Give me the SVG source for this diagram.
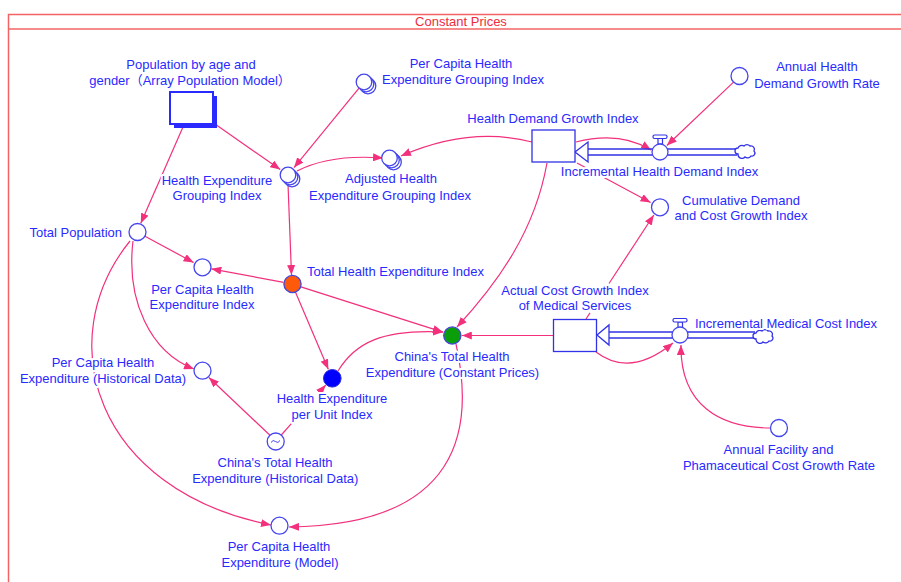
<svg xmlns="http://www.w3.org/2000/svg" width="901" height="582" viewBox="0 0 901 582">
<style>
text{font-family:"Liberation Sans",Arial,"Noto Sans CJK SC",sans-serif;font-size:13px;fill:#2a2aff;text-anchor:middle}
.lbl{paint-order:stroke;stroke:#fff;stroke-width:4px;stroke-linejoin:round}
.aux{fill:#fff;stroke:#4646f0;stroke-width:1.3}
.lk{fill:none;stroke:#f2307c;stroke-width:1.2;marker-end:url(#ah)}
.ln{fill:none;stroke:#f2307c;stroke-width:1.2}
.stock{fill:#fff;stroke:#3232e6;stroke-width:1.3}
.pipe{stroke:#3232e6;stroke-width:1.3;fill:none}
</style>
<defs>
<marker id="ah" markerUnits="userSpaceOnUse" markerWidth="10" markerHeight="8" refX="10" refY="4" orient="auto">
<path d="M0,0 L10,4 L0,8 z" fill="#f2307c"/>
</marker>
<path id="cloud" d="M-8,3 a3,3 0 0 1 0,-6 a4,4 0 0 1 6,-2 a4,4 0 0 1 6,0 a3.5,3.5 0 0 1 4,5 a3,3 0 0 1 -3,5 a4,4 0 0 1 -6,1 a4,4 0 0 1 -7,-3 z" fill="#fff" stroke="#3232e6" stroke-width="1.3"/>
</defs>
<rect width="901" height="582" fill="#fff"/>
<g id="frame">
<rect x="8.5" y="14.5" width="900" height="580" fill="none" stroke="#f26464" stroke-width="1.5"/>
<line x1="8.5" y1="29" x2="901" y2="29" stroke="#f26464" stroke-width="1.5"/>
<text x="461" y="25.5" style="fill:#f02c3c">Constant Prices</text>
</g>
<g id="connectors">
<path class="lk" d="M183,127 L140.8,223.3"/>
<path class="lk" d="M215,124 L280.2,169.6"/>
<path class="lk" d="M359,88.2 L294,167.6"/>
<path class="lk" d="M297,171 Q330,154 383,158"/>
<path class="lk" d="M532,142 Q470,126 401,156"/>
<path class="lk" d="M288,184 L291.5,275"/>
<path class="lk" d="M144.5,236 L193.6,262.5"/>
<path class="lk" d="M283.6,282.4 L211.3,268.8"/>
<path class="lk" d="M300.1,286.6 L442.9,332.1"/>
<path class="lk" d="M295.3,291.8 L328.3,369.3"/>
<path class="lk" d="M338,371 C355,343 382,329 443,332"/>
<path class="ln" d="M281.3,435 L294,420.7"/>
<path class="lk" d="M320.5,391 L325.7,385.1"/>
<path class="lk" d="M270.2,435.5 L208.9,377.5"/>
<path class="lk" d="M133,241 C126,300 150,352 194,369"/>
<path class="lk" d="M130,241 C50,340 95,490 271,525"/>
<path class="lk" d="M456,344 C475,430 460,525 289,527"/>
<path class="lk" d="M547,163 C535,230 500,280 457,327"/>
<path class="lk" d="M553,335.5 L461.8,335.5"/>
<path class="lk" d="M596,352 Q630,378 673,343"/>
<path class="lk" d="M771,428 C720,428 680,405 681,345"/>
<path class="ln" d="M586,319 L590,312.8"/>
<path class="lk" d="M609,283.5 L653.8,215"/>
<path class="lk" d="M577,163 L650.6,202.5"/>
<path class="lk" d="M576,142 Q620,131 651,150"/>
<path class="lk" d="M733.8,81.9 L666.9,145.5"/>
</g>
<g id="pop-array">
<rect x="174" y="96" width="43" height="32" fill="#2a2aff"/>
<rect x="170" y="92" width="43" height="32" fill="#fff" stroke="#2a2aff" stroke-width="2"/>
<text class="lbl" x="191" y="68.5">Population by age and</text>
<text class="lbl" x="190" y="84.5">gender（Array Population Model）</text>
</g>
<g id="pc-grouping-index">
<circle class="aux" cx="368" cy="86" r="7.8"/>
<circle class="aux" cx="366" cy="84" r="7.8"/>
<circle class="aux" cx="364" cy="82" r="7.8"/>
<text class="lbl" x="461" y="67.5">Per Capita Health</text>
<text class="lbl" x="463" y="83.5">Expenditure Grouping Index</text>
</g>
<g id="he-grouping-index">
<circle class="aux" cx="292" cy="179" r="7.8"/>
<circle class="aux" cx="290" cy="177" r="7.8"/>
<circle class="aux" cx="288" cy="175" r="7.8"/>
<text class="lbl" x="217" y="184.5">Health Expenditure</text>
<text class="lbl" x="217" y="200">Grouping Index</text>
</g>
<g id="adjusted-grouping-index">
<circle class="aux" cx="393.5" cy="162" r="7.8"/>
<circle class="aux" cx="391.5" cy="160" r="7.8"/>
<circle class="aux" cx="389.5" cy="158" r="7.8"/>
<text class="lbl" x="391" y="182.5">Adjusted Health</text>
<text class="lbl" x="390" y="199.5">Expenditure Grouping Index</text>
</g>
<g id="health-demand-flow">
<line class="pipe" x1="588" y1="149" x2="737" y2="149"/>
<line class="pipe" x1="588" y1="155" x2="737" y2="155"/>
<polygon points="575,152 588,142 588,162" fill="#fff" stroke="#3232e6" stroke-width="1.3"/>
<use href="#cloud" x="746" y="151"/>
<rect x="658" y="138" width="4.5" height="6" fill="#fff" stroke="#3232e6" stroke-width="1.2"/>
<rect x="653" y="135" width="14" height="3.5" rx="1.5" fill="#fff" stroke="#3232e6" stroke-width="1.2"/>
<circle class="aux" cx="660" cy="152" r="8"/>
<text class="lbl" x="659.5" y="176">Incremental Health Demand Index</text>
</g>
<g id="health-demand-growth-index">
<rect class="stock" x="532" y="130" width="43" height="32"/>
<text class="lbl" x="553" y="122.5">Health Demand Growth Index</text>
</g>
<g id="annual-health-demand-growth-rate">
<circle class="aux" cx="739.5" cy="76" r="8.5"/>
<text class="lbl" x="817" y="71">Annual Health</text>
<text class="lbl" x="817" y="87.5">Demand Growth Rate</text>
</g>
<g id="cumulative-index">
<circle class="aux" cx="660" cy="207.3" r="8.5"/>
<text class="lbl" x="741" y="204.5">Cumulative Demand</text>
<text class="lbl" x="741" y="219.5">and Cost Growth Index</text>
</g>
<g id="medical-cost-flow">
<line class="pipe" x1="609" y1="332" x2="755" y2="332"/>
<line class="pipe" x1="609" y1="338" x2="755" y2="338"/>
<polygon points="597,335 609,325 609,345" fill="#fff" stroke="#3232e6" stroke-width="1.3"/>
<use href="#cloud" x="764" y="336"/>
<rect x="678" y="322" width="4.5" height="5.5" fill="#fff" stroke="#3232e6" stroke-width="1.2"/>
<rect x="673" y="318.5" width="14" height="3.5" rx="1.5" fill="#fff" stroke="#3232e6" stroke-width="1.2"/>
<circle class="aux" cx="680" cy="335" r="8"/>
<text class="lbl" x="695" y="327.5" style="text-anchor:start">Incremental Medical Cost Index</text>
</g>
<g id="actual-cost-growth-index">
<rect class="stock" x="553.5" y="319.5" width="43" height="32"/>
<text class="lbl" x="575" y="294.5">Actual Cost Growth Index</text>
<text class="lbl" x="575" y="309.5">of Medical Services</text>
</g>
<g id="annual-facility-rate">
<circle class="aux" cx="779" cy="428" r="8.5"/>
<text class="lbl" x="778.5" y="453.5">Annual Facility and</text>
<text class="lbl" x="779" y="469.5">Phamaceutical Cost Growth Rate</text>
</g>
<g id="total-population">
<circle class="aux" cx="137.5" cy="232" r="8.5"/>
<text class="lbl" x="122" y="237" style="text-anchor:end">Total Population</text>
</g>
<g id="pc-he-index">
<circle class="aux" cx="202.5" cy="267.3" r="8.5"/>
<text class="lbl" x="202.5" y="293.5">Per Capita Health</text>
<text class="lbl" x="202" y="308.5">Expenditure Index</text>
</g>
<g id="total-he-index">
<circle cx="292.5" cy="284" r="8.6" fill="#ff5a0a" stroke="#4646d8" stroke-width="1.3"/>
<text class="lbl" x="307" y="276" style="text-anchor:start">Total Health Expenditure Index</text>
</g>
<g id="pc-he-historical">
<circle class="aux" cx="202.5" cy="370.7" r="8.5"/>
<text class="lbl" x="103" y="367">Per Capita Health</text>
<text class="lbl" x="103" y="382.5">Expenditure (Historical Data)</text>
</g>
<g id="he-per-unit-index">
<circle cx="332.3" cy="378.3" r="8.8" fill="#0000ff" stroke="#2a2ad8" stroke-width="1"/>
<text class="lbl" x="332" y="403">Health Expenditure</text>
<text class="lbl" x="332" y="418.5">per Unit Index</text>
</g>
<g id="china-the-constant">
<circle cx="452.3" cy="335.5" r="8.6" fill="#0a9e0a" stroke="#4646d8" stroke-width="1.3"/>
<text class="lbl" x="452" y="361">China's Total Health</text>
<text class="lbl" x="452.5" y="377">Expenditure (Constant Prices)</text>
</g>
<g id="china-the-historical">
<circle class="aux" cx="275.7" cy="441.5" r="8.5"/>
<path d="M271,442.5 q2,-3.5 4.5,-1 t4.5,-1" fill="none" stroke="#4646f0" stroke-width="1"/>
<text class="lbl" x="275" y="466.5">China's Total Health</text>
<text class="lbl" x="275.3" y="483">Expenditure (Historical Data)</text>
</g>
<g id="pc-he-model">
<circle class="aux" cx="279.5" cy="525.7" r="8.5"/>
<text class="lbl" x="279" y="550.5">Per Capita Health</text>
<text class="lbl" x="280" y="566.5">Expenditure (Model)</text>
</g>
</svg>
